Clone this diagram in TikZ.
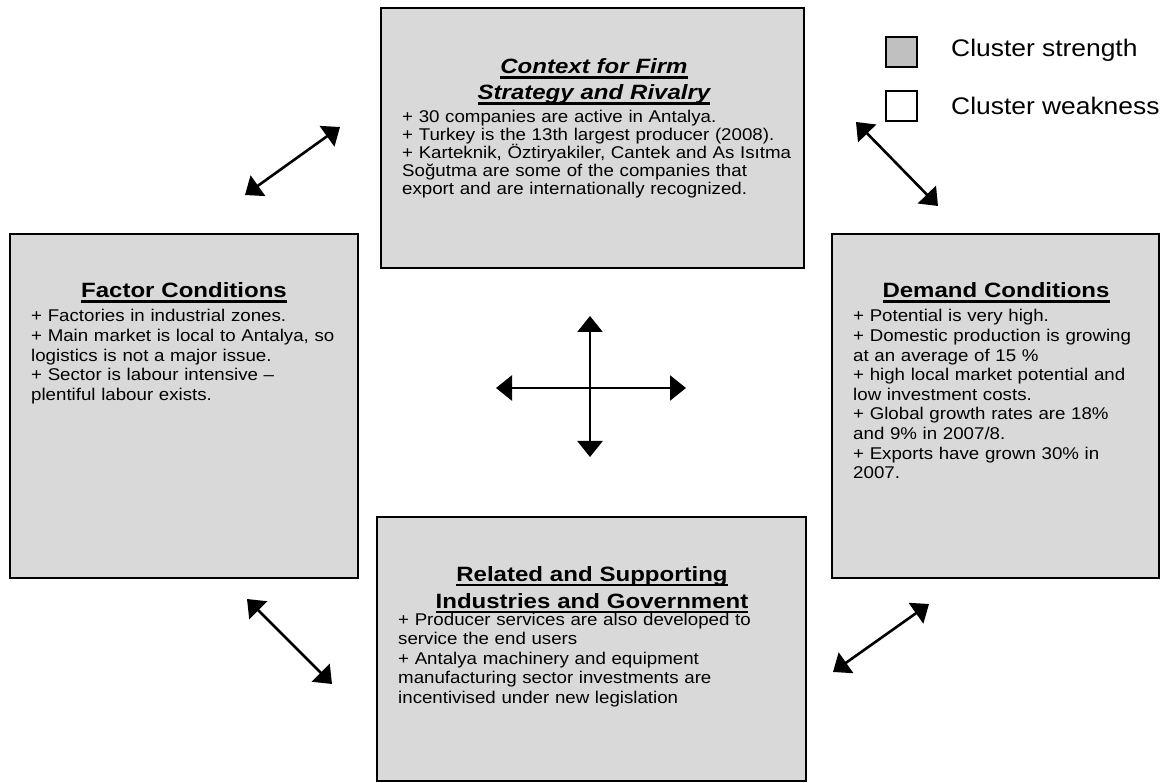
\documentclass[tikz,border=0pt]{standalone}
\usepackage{fontspec}
\setmainfont{Liberation Sans}[FakeStretch=1.1]
\newfontfamily{\titlefam}{Liberation Sans}[FakeStretch=1.16]
\newsavebox{\myulbox}
\newcommand{\myul}[1]{\leavevmode\sbox{\myulbox}{#1}\rlap{\rule[-5.3pt]{\wd\myulbox}{2.8pt}}\usebox{\myulbox}}
\usetikzlibrary{arrows.meta}
\definecolor{boxgray}{HTML}{D9D9D9}
\definecolor{leggray}{HTML}{C0C0C0}
\begin{document}
\begin{tikzpicture}[x=1pt,y=-1pt,
  box/.style={draw=black, line width=1.6pt, fill=boxgray, inner sep=0pt},
  title/.style={anchor=base, align=center, text width=420pt, inner sep=0pt, font=\titlefam\fontsize{20.7}{27}\selectfont\bfseries},
  titleit/.style={title, font=\titlefam\fontsize{20.7}{25.5}\selectfont\bfseries\itshape},
  body/.style={anchor=base west, align=left, text width=420pt, inner sep=0pt, font=\fontsize{17}{19.6}\selectfont},
  legbox/.style={draw=black, line width=1.6pt, minimum width=31pt, minimum height=30pt, inner sep=0pt},
  legtext/.style={anchor=base west, inner sep=0pt, font=\fontsize{24}{28}\selectfont},
  dbl/.style={line width=2.6pt, {Triangle[length=16pt,width=25pt]}-{Triangle[length=16pt,width=25pt]}}
]
\useasboundingbox[fill=white] (0,0) rectangle (1168,783);

% boxes
\node[box, minimum width=423pt, minimum height=260pt] (ctx) at (592.5,138) {};
\node[box, minimum width=348pt, minimum height=344pt] (fac) at (184,406) {};
\node[box, minimum width=327pt, minimum height=344pt] (dem) at (995.5,406) {};
\node[box, minimum width=429pt, minimum height=264pt] (rel) at (591.5,649) {};

% titles
\node[titleit] (ctxT) at (594,74) {\myul{Context for Firm}\\\myul{Strategy and Rivalry}};
\node[title] (facT) at (184,297.5) {\myul{Factor Conditions}};
\node[title] (demT) at (996,297.5) {\myul{Demand Conditions}};
\node[title] (relT) at (592,581) {\myul{Related and Supporting}\\\myul{Industries and Government}};

% bodies
\node[body, font=\fontsize{17}{18}\selectfont] (ctxB) at (402,123) {+ 30 companies are active in Antalya.\\
+ Turkey is the 13th largest producer (2008).\\
+ Karteknik, Öztiryakiler, Cantek and As Isıtma\\
Soğutma are some of the companies that\\
export and are internationally recognized.};
\node[body] (facB) at (31,322) {+ Factories in industrial zones.\\
+ Main market is local to Antalya, so\\
logistics is not a major issue.\\
+ Sector is labour intensive –\\
plentiful labour exists.};
\node[body] (demB) at (853,322) {+ Potential is very high.\\
+ Domestic production is growing\\
at an average of 15 \%\\
+ high local market potential and\\
low investment costs.\\
+ Global growth rates are 18\%\\
and 9\% in 2007/8.\\
+ Exports have grown 30\% in\\
2007.};
\node[body] (relB) at (398,625) {+ Producer services are also developed to\\
service the end users\\
+ Antalya machinery and equipment\\
manufacturing sector investments are\\
incentivised under new legislation};

% legend
\node[legbox, fill=leggray] (lgS) at (901.5,52) {};
\node[legbox, fill=white] (lgW) at (901.5,106) {};
\node[legtext] (lgSt) at (951,56.5) {Cluster strength};
\node[legtext] (lgWt) at (951,114.5) {Cluster weakness};

% arrow end points
\coordinate (tlA) at (245,195);
\coordinate (tlB) at (340,127);
\coordinate (trA) at (856,122);
\coordinate (trB) at (938,206);
\coordinate (blA) at (247,599);
\coordinate (blB) at (332,684);
\coordinate (brA) at (833,672);
\coordinate (brB) at (929,604);
\coordinate (cvA) at (590,316);
\coordinate (cvB) at (590,457);
\coordinate (chA) at (496,388);
\coordinate (chB) at (686,388);

\draw[dbl] (tlA) -- (tlB);
\draw[dbl] (trA) -- (trB);
\draw[dbl] (blA) -- (blB);
\draw[dbl] (brA) -- (brB);
\draw[dbl] (cvA) -- (cvB);
\draw[dbl] (chA) -- (chB);
\end{tikzpicture}
\end{document}
